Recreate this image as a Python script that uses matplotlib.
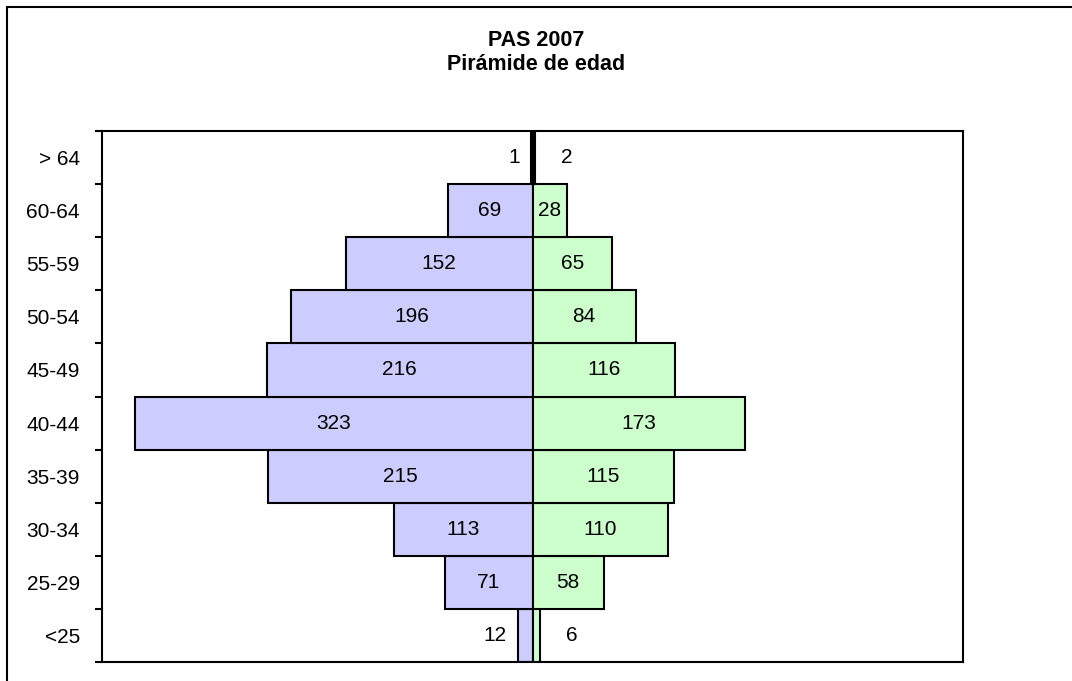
import matplotlib
matplotlib.use("Agg")
import matplotlib.pyplot as plt
from matplotlib.patches import Rectangle
import numpy as np

plt.rcParams['font.family'] = ['Liberation Sans', 'DejaVu Sans']

# Age groups, bottom to top
age_groups = ["<25", "25-29", "30-34", "35-39", "40-44",
              "45-49", "50-54", "55-59", "60-64", "> 64"]
left_counts = [12, 71, 113, 215, 323, 216, 196, 152, 69, 1]
right_counts = [6, 58, 110, 115, 173, 116, 84, 65, 28, 2]

title_lines = ["PAS 2007", "Pirámide de edad"]

W, H = 1072, 681
fig = plt.figure(figsize=(W / 100, H / 100), dpi=100)
fig.patch.set_facecolor("white")

# outer chart-area frame (left and top edges visible)
fig.add_artist(Rectangle((7 / W, -0.1), 1.2, 1 - 7 / H + 0.1,
                         transform=fig.transFigure, fill=False,
                         edgecolor="black", linewidth=1.5))

ax = fig.add_axes([102 / W, (H - 662) / H, (963 - 102) / W, (662 - 131) / H])

y = np.arange(len(age_groups))
lv = -np.array(left_counts)
rv = np.array(right_counts)

ax.barh(y, lv, height=1.0, color="#CCCCFF", edgecolor="black", linewidth=1.5)
ax.barh(y, rv, height=1.0, color="#CCFFCC", edgecolor="black", linewidth=1.5)

ax.set_xlim(-350, 350)
ax.set_ylim(-0.5, len(age_groups) - 0.5)

fs = 15
for yi, v in zip(y, left_counts):
    if v >= 20:
        ax.text(-v / 2, yi, str(v), ha="center", va="center", fontsize=fs)
    else:
        ax.annotate(str(v), (-v, yi), xytext=(-8, 0), textcoords="offset points",
                    ha="right", va="center", fontsize=fs)
for yi, v in zip(y, right_counts):
    if v >= 20:
        ax.text(v / 2, yi, str(v), ha="center", va="center", fontsize=fs)
    else:
        ax.annotate(str(v), (v, yi), xytext=(19, 0), textcoords="offset points",
                    ha="left", va="center", fontsize=fs)

# category boundaries carry the tick marks, centres carry the labels
ax.set_yticks(np.arange(len(age_groups) + 1) - 0.5)
ax.set_yticklabels([])
ax.set_yticks(y, minor=True)
ax.set_yticklabels(age_groups, minor=True, fontsize=fs)
ax.tick_params(axis="y", which="major", length=5, width=1.5, direction="out")
ax.tick_params(axis="y", which="minor", length=0, pad=16)
ax.set_xticks([])

for s in ax.spines.values():
    s.set_linewidth(1.5)
    s.set_color("black")

fig.text(536 / W, 1 - 40 / H, title_lines[0], ha="center", va="center",
         fontsize=15.5, fontweight="bold")
fig.text(536 / W, 1 - 64 / H, title_lines[1], ha="center", va="center",
         fontsize=15.5, fontweight="bold")

fig.savefig("out.png", dpi=100, facecolor="white")
